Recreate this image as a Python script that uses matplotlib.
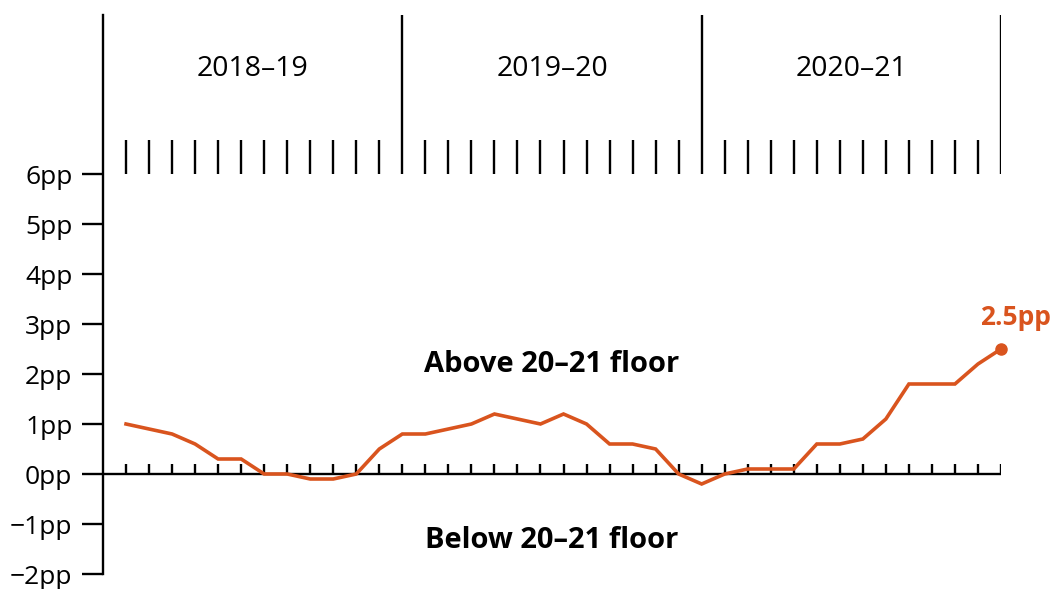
import matplotlib.pyplot as plt
import numpy as np

plt.rcParams['font.family'] = ['Open Sans', 'DejaVu Sans']

# 13 four-week periods per year
years = ['2018–19', '2019–20', '2020–21']
periods_per_year = 13
values = [1.0, 0.9, 0.8, 0.6, 0.3, 0.3, 0.0, 0.0, -0.1, -0.1, 0.0, 0.5, 0.8,
          0.8, 0.9, 1.0, 1.2, 1.1, 1.0, 1.2, 1.0, 0.6, 0.6, 0.5, 0.0, -0.2,
          0.0, 0.1, 0.1, 0.1, 0.6, 0.6, 0.7, 1.1, 1.8, 1.8, 1.8, 2.2, 2.5]
yticks = [-2, -1, 0, 1, 2, 3, 4, 5, 6]
ytick_labels = ['−2pp', '−1pp', '0pp', '1pp', '2pp', '3pp', '4pp', '5pp', '6pp']

orange = '#d9541e'
W, H = 1056, 589
fs = 19

fig = plt.figure(figsize=(W / 100, H / 100), dpi=100)
ax = fig.add_axes([103 / W, (H - 574) / H, (1001 - 103) / W, (574 - 15) / H])

n = len(values)
x = np.arange(1, n + 1)
ax.set_xlim(0, n)
ax.set_ylim(-2, 9.18)

# zero line with small period ticks
ax.plot([0, n], [0, 0], color='black', lw=1.7, solid_capstyle='butt')
ax.vlines(x, 0, 0.2, color='black', lw=1.7)

# year dividers and period ticks at top
for i in range(len(years)):
    end = (i + 1) * periods_per_year
    ax.vlines(end, 6, 9.18, color='black', lw=1.7)
    ax.text(end - periods_per_year / 2, 8.1, years[i], ha='center', va='center',
            fontsize=20.5)
top_ticks = [k for k in x if k % periods_per_year != 0]
ax.vlines(top_ticks, 6, 6.68, color='black', lw=1.7)

ax.plot(x, values, color=orange, lw=2.6, solid_joinstyle='miter')
ax.plot(x[-1], values[-1], 'o', color=orange, ms=8, clip_on=False)
ax.text(x[-1] + 0.65, values[-1] + 0.63, '2.5pp', color=orange, fontsize=fs,
        fontweight='bold', ha='center', va='center', clip_on=False)

ax.text(19.5, 2.18, 'Above 20–21 floor', fontsize=21, fontweight='bold',
        ha='center', va='center')
ax.text(19.5, -1.32, 'Below 20–21 floor', fontsize=21, fontweight='bold',
        ha='center', va='center')

ax.set_yticks(yticks)
ax.set_yticklabels(ytick_labels, fontsize=fs)
ax.set_xticks([])
ax.tick_params(axis='y', length=15, width=1.7, pad=7)
for s in ['top', 'right', 'bottom']:
    ax.spines[s].set_visible(False)
ax.spines['left'].set_linewidth(1.7)

fig.savefig('out.png', dpi=100)
